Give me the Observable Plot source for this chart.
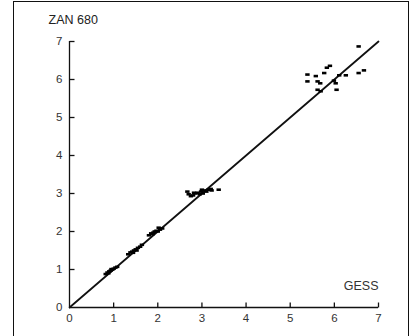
<!DOCTYPE html>
<html>
<head>
<meta charset="utf-8">
<script src="https://cdn.jsdelivr.net/npm/d3@7"></script>
<script src="https://cdn.jsdelivr.net/npm/@observablehq/plot@0.6"></script>
<style>
  html, body { margin: 0; padding: 0; background: #fff; }
  #wrap { position: relative; width: 414px; height: 336px; overflow: hidden; }
  #frame { position: absolute; left: 13px; top: 1px; width: 396px; height: 400px;
           border: 1.5px solid #111; box-sizing: border-box; pointer-events: none; }
  svg { position: absolute; left: 0; top: 0; }
</style>
</head>
<body>
<div id="wrap"><div id="frame"></div></div>
<script>
// GESS (x) vs ZAN 680 (y)
const gess = [
  0.82, 0.86, 0.88, 0.90, 0.93, 0.95, 0.97, 1.00, 1.04, 1.08,
  1.33, 1.38, 1.42, 1.44, 1.46, 1.50, 1.52, 1.55, 1.60, 1.64,
  1.80, 1.85, 1.88, 1.90, 1.93, 1.97, 2.00, 2.02, 2.05, 2.10,
  2.67, 2.70, 2.75, 2.80, 2.82, 2.85, 2.90, 2.95, 2.98, 3.00, 3.02, 3.05, 3.10, 3.15, 3.20, 3.22, 3.38,
  6.55, 5.39, 5.39, 5.58, 5.77, 5.83, 5.90, 5.62, 5.68, 5.62, 5.69, 5.99, 6.03, 6.05, 6.11, 6.26, 6.55, 6.67
];
const zan680 = [
  0.88, 0.92, 0.90, 0.95, 0.97, 1.01, 1.00, 1.02, 1.05, 1.07,
  1.40, 1.45, 1.47, 1.44, 1.50, 1.53, 1.50, 1.57, 1.60, 1.65,
  1.90, 1.95, 1.93, 1.97, 2.00, 2.02, 2.00, 2.10, 2.05, 2.08,
  3.05, 2.98, 2.93, 2.95, 3.02, 3.00, 3.02, 2.98, 3.05, 3.10, 3.00, 3.08, 3.05, 3.10, 3.12, 3.08, 3.10,
  6.87, 6.13, 5.95, 6.09, 6.17, 6.31, 6.36, 5.95, 5.90, 5.73, 5.69, 5.97, 5.90, 5.73, 6.11, 6.11, 6.17, 6.24
];
const ticks = [0, 1, 2, 3, 4, 5, 6, 7];
const identityLine = [0, 7];
const xTitle = "GESS";
const yTitle = "ZAN 680";

const points = gess.map((g, i) => ({gess: g, zan: zan680[i]}));

const bar = { draw(ctx) { ctx.rect(-2.2, -1.3, 4.4, 2.6); } };
const tickUp = { draw(ctx) { ctx.moveTo(0, 0); ctx.lineTo(0, -5); } };
const tickRight = { draw(ctx) { ctx.moveTo(0, 0); ctx.lineTo(5, 0); } };

const chart = Plot.plot({
  width: 414,
  height: 336,
  marginLeft: 69,
  marginRight: 36,
  marginTop: 41,
  marginBottom: 29,
  style: { fontFamily: "'Liberation Sans', Arial, sans-serif", background: "transparent", overflow: "visible" },
  x: { domain: [0, 7], label: null },
  y: { domain: [0, 7], label: null },
  marks: [
    Plot.ruleY([0], { x1: 0, x2: 7, stroke: "#111", strokeWidth: 1.3 }),
    Plot.ruleX([0], { y1: 0, y2: 7, stroke: "#111", strokeWidth: 1.3 }),
    Plot.dot(ticks.slice(1), { x: d => d, y: 0, symbol: tickUp, stroke: "#111", strokeWidth: 1.3, fill: "none" }),
    Plot.dot(ticks.slice(1), { x: 0, y: d => d, symbol: tickRight, stroke: "#111", strokeWidth: 1.3, fill: "none" }),
    Plot.axisX({ ticks, tickSize: 0, tickPadding: 6, tickFormat: "d", fontSize: 11.5, color: "#333" }),
    Plot.axisY({ ticks, tickSize: 0, tickPadding: 7, tickFormat: "d", fontSize: 11.5, color: "#333" }),
    Plot.line(identityLine, { x: d => d, y: d => d, stroke: "#111", strokeWidth: 1.8 }),
    Plot.dot(points, { x: "gess", y: "zan", symbol: bar, r: 2, fill: "#000", stroke: "none" }),
    Plot.text([yTitle], { frameAnchor: "top-left", dx: -21, dy: -26, text: d => d, fontSize: 12.5, fill: "#222", textAnchor: "start" }),
    Plot.text([xTitle], { frameAnchor: "bottom-right", dx: 0, dy: -18, text: d => d, fontSize: 12.5, fill: "#333", textAnchor: "end" })
  ]
});
document.getElementById("wrap").insertBefore(chart, document.getElementById("frame"));
</script>
</body>
</html>
